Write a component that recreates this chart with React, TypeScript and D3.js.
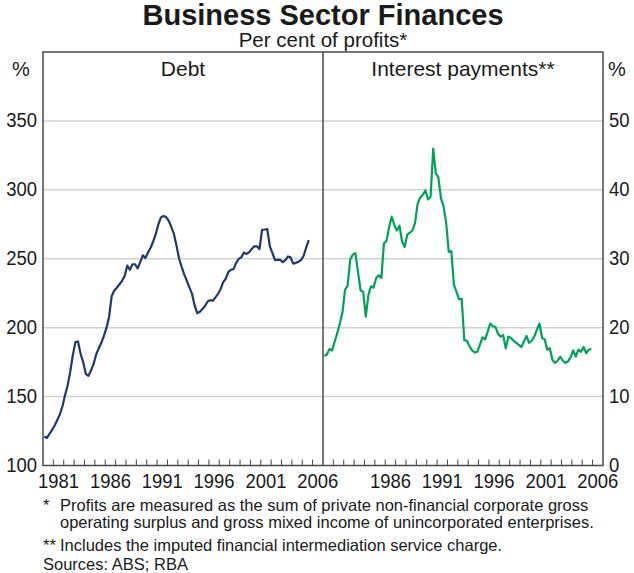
import React from 'react';
import * as d3 from 'd3';

// Quarterly observations, first one plotted at 1980.125
const quarterStart = 1980.125;

const debt = [
  121, 120, 123, 125.8, 129, 133, 137, 143, 151, 158, 168, 180,
  189.5, 190, 181, 175, 166.5, 165, 169, 173.5, 180.5, 185, 189, 194,
  200, 208, 223, 227, 229, 231.5, 234, 237.5, 245, 242, 246, 246,
  243, 247.5, 252.5, 250.5, 254.5, 258, 262.5, 268, 275, 280, 281, 280.2,
  277.5, 273, 268, 259.5, 250, 244, 238.5, 234, 229, 224.5, 216, 210.5,
  211.5, 213.5, 215.7, 219, 220, 219.5, 222, 224.5, 228, 233, 235.5, 240.5,
  242, 242.5, 247, 250, 251, 254.5, 253.5, 254.7, 257, 259, 259, 257,
  271, 271.2, 271.5, 259, 254, 249, 249.3, 249.2, 247.5, 249, 251.7, 251,
  246.5, 247, 247.8, 249, 252, 258, 263.5,
];

const interest = [
  15.9, 16.1, 16.9, 16.7, 18.0, 19.2, 20.6, 22.2, 25.5, 26.1, 29.9, 30.6,
  30.8, 28.1, 25.4, 25.2, 21.6, 24.7, 26.0, 25.8, 27.2, 27.6, 27.2, 32.2,
  32.6, 34.6, 36.1, 34.9, 34.1, 34.8, 32.5, 31.7, 33.5, 33.8, 34.1, 35.2,
  38.0, 38.9, 39.3, 39.9, 38.6, 39.0, 46.0, 42.4, 41.8, 38.8, 37.6, 35.2,
  31.0, 31.1, 26.2, 25.2, 24.1, 24.2, 18.2, 18.1, 17.3, 16.7, 16.4, 16.5,
  17.5, 18.6, 18.3, 19.4, 20.6, 20.2, 20.1, 19.1, 18.7, 18.9, 17.0, 18.7,
  18.5, 18.1, 17.8, 17.5, 17.2, 18.0, 18.8, 17.8, 18.1, 18.7, 19.7, 20.6,
  18.5, 18.3, 16.8, 17.0, 15.3, 14.9, 15.2, 15.8, 15.2, 14.9, 15.1, 15.7,
  16.7, 15.8, 16.8, 16.5, 17.2, 16.3, 16.8, 16.9,
];

const leftTicks = [100, 150, 200, 250, 300, 350];
const rightTicks = [0, 10, 20, 30, 40, 50];
const leftYearLabels = [1981, 1986, 1991, 1996, 2001, 2006];
const rightYearLabels = [1986, 1991, 1996, 2001, 2006];

const footnotes = [
  { mark: '*', text: 'Profits are measured as the sum of private non-financial corporate gross' },
  { mark: '', text: 'operating surplus and gross mixed income of unincorporated enterprises.' },
  { mark: '**', text: 'Includes the imputed financial intermediation service charge.' },
];

const font = "'Liberation Sans', Arial, sans-serif";

// narrow-ish label, like the condensed face of the original
function Label({ x, y, anchor, size, children }: { x: number; y: number; anchor: string; size: number; children: React.ReactNode }) {
  return (
    <text transform={`translate(${x},${y}) scale(0.9,1)`} textAnchor={anchor} fontSize={size} fill="#1a1a1a">
      {children}
    </text>
  );
}

export default function App() {
  const W = 634;
  const H = 573;
  const top = 52;
  const bottom = 465.5;
  const left = 43;
  const mid = 323;
  const right = 603;
  const cx = (left + right) / 2;

  const xL = d3.scaleLinear().domain([1980, 2007]).range([left, mid]);
  const xR = d3.scaleLinear().domain([1980, 2007]).range([mid, right]);
  const yL = d3.scaleLinear().domain([100, 400]).range([bottom, top]);
  const yR = d3.scaleLinear().domain([0, 60]).range([bottom, top]);

  const t = (i: number) => quarterStart + i * 0.25;

  const debtLine = d3.line<number>()
    .x((d, i) => xL(t(i)))
    .y((d) => yL(d))(debt);

  const interestLine = d3.line<number>()
    .x((d, i) => xR(t(i)))
    .y((d) => yR(d))(interest);

  const years = d3.range(1981, 2007);
  const noteY = [511, 528, 551];

  return (
    <div style={{ position: 'absolute', left: 0, top: 0 }}>
      <svg width={W} height={H} style={{ display: 'block', background: '#fff' }} fontFamily={font}>
        {/* titles */}
        <text x={cx} y={25} textAnchor="middle" fontSize={29} fontWeight="bold" fill="#1a1a1a">
          Business Sector Finances
        </text>
        <text x={cx} y={47} textAnchor="middle" fontSize={20.5} fill="#1a1a1a">
          Per cent of profits*
        </text>

        {/* gridlines */}
        {leftTicks.filter((v) => v > 100).map((v) => (
          <line key={v} x1={left} x2={right} y1={yL(v)} y2={yL(v)} stroke="#d2d2d2" strokeWidth={1.5} />
        ))}

        {/* series */}
        <path d={debtLine ?? ''} fill="none" stroke="#20386b" strokeWidth={2.2} strokeLinejoin="round" />
        <path d={interestLine ?? ''} fill="none" stroke="#00a25a" strokeWidth={2.2} strokeLinejoin="round" />

        {/* year ticks */}
        {years.map((yr) => (
          <g key={yr}>
            <line x1={xL(yr)} x2={xL(yr)} y1={bottom} y2={bottom - 6} stroke="#444" strokeWidth={1} />
            <line x1={xR(yr)} x2={xR(yr)} y1={bottom} y2={bottom - 6} stroke="#444" strokeWidth={1} />
          </g>
        ))}

        {/* frame */}
        <rect x={left} y={top} width={right - left} height={bottom - top} fill="none" stroke="#4a4a4a" strokeWidth={1.5} />
        <line x1={mid} x2={mid} y1={top} y2={bottom} stroke="#4a4a4a" strokeWidth={1.5} />

        {/* panel titles */}
        <text x={(left + mid) / 2} y={76} textAnchor="middle" fontSize={21} fill="#1a1a1a">Debt</text>
        <text x={(mid + right) / 2} y={76} textAnchor="middle" fontSize={21} fill="#1a1a1a">Interest payments**</text>
        <text x={21} y={76} textAnchor="middle" fontSize={20} fill="#1a1a1a">%</text>
        <text x={617} y={76} textAnchor="middle" fontSize={20} fill="#1a1a1a">%</text>

        {/* y tick labels */}
        {leftTicks.map((v) => (
          <Label key={v} x={37} y={yL(v) + 6.5} anchor="end" size={20.5}>{v}</Label>
        ))}
        {rightTicks.map((v) => (
          <Label key={v} x={609} y={yR(v) + 6.5} anchor="start" size={20.5}>{v}</Label>
        ))}

        {/* x tick labels */}
        {leftYearLabels.map((yr) => (
          <Label key={'l' + yr} x={xL(yr + 0.5)} y={487.5} anchor="middle" size={20.5}>{yr}</Label>
        ))}
        {rightYearLabels.map((yr) => (
          <Label key={'r' + yr} x={xR(yr + 0.5)} y={487.5} anchor="middle" size={20.5}>{yr}</Label>
        ))}

        {/* footnotes */}
        {footnotes.map((f, i) => (
          <g key={i}>
            <text x={43} y={noteY[i]} fontSize={16.5} fill="#1a1a1a">{f.mark}</text>
            <text x={60} y={noteY[i]} fontSize={16.5} fill="#1a1a1a">{f.text}</text>
          </g>
        ))}
        <text x={43} y={570} fontSize={16.5} fill="#1a1a1a">Sources: ABS; RBA</text>
      </svg>
    </div>
  );
}
